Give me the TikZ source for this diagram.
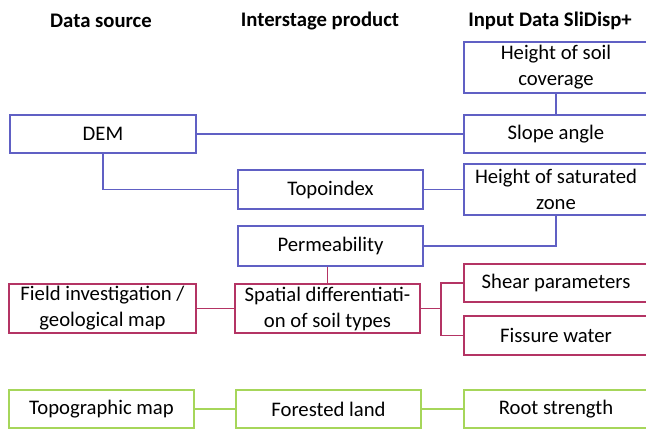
\documentclass[tikz,border=0pt]{standalone}
\usepackage{fontspec}
\setmainfont{Carlito}
\usepackage{tikz}
\usetikzlibrary{positioning}
\definecolor{bluebox}{RGB}{96,96,196}
\definecolor{redbox}{RGB}{180,52,100}
\definecolor{greenbox}{RGB}{166,214,90}
\tikzstyle{box} = [rectangle, draw, line width=1.3pt, text centered, align=center, inner sep=0pt, font=\fontsize{20.7}{26}\selectfont]
\tikzstyle{bluenode} = [box, draw=bluebox]
\tikzstyle{rednode} = [box, draw=redbox]
\tikzstyle{greennode} = [box, draw=greenbox]
\tikzstyle{head} = [font=\fontsize{20.7}{25}\selectfont\bfseries]
\tikzstyle{blueline} = [line width=1.3pt, draw=bluebox]
\tikzstyle{redline} = [line width=1.3pt, draw=redbox]
\tikzstyle{greenline} = [line width=1.3pt, draw=greenbox]

\begin{document}
\begin{tikzpicture}[x=1pt, y=-1pt]
                            \useasboundingbox (0,0) rectangle (646,431);
                            % column headings
                            \node (hsource) [head] at (101,21) {Data source};
                            \node (hinter) [head] at (320,21) {Interstage product};
                            \node (hinput) [head] at (550,21) {Input Data SliDisp+};
                            % data sources
                            \node (dem) [bluenode, minimum width=186pt, minimum height=38pt] at (103,134) {DEM};
                            \node (field) [rednode, minimum width=187pt, minimum height=49pt] at (102.5,308.5) {Field investigation /\\geological map};
                            \node (topomap) [greennode, minimum width=185pt, minimum height=38pt] at (101.5,409) {Topographic map};
                            % interstage products
                            \node (topoindex) [bluenode, minimum width=185pt, minimum height=39pt] at (330.5,189.5) {Topoindex};
                            \node (perm) [bluenode, minimum width=185pt, minimum height=40pt] at (330.5,246) {Permeability};
                            \node (spatial) [rednode, minimum width=185pt, minimum height=49pt] at (327.5,308.5) {Spatial differentiati-\\on of soil types};
                            \node (forest) [greennode, minimum width=185pt, minimum height=38pt] at (328.5,409) {Forested land};
                            % input data
                            \node (soil) [bluenode, minimum width=184pt, minimum height=51pt] at (556,67.5) {Height of soil\\coverage};
                            \node (slope) [bluenode, minimum width=184pt, minimum height=38pt] at (556,134) {Slope angle};
                            \node (satur) [bluenode, minimum width=184pt, minimum height=51pt] at (556,189.5) {Height of saturated\\zone};
                            \node (shear) [rednode, minimum width=184pt, minimum height=38pt] at (556,283) {Shear parameters};
                            \node (fissure) [rednode, minimum width=184pt, minimum height=39pt] at (556,335.5) {Fissure water};
                            \node (root) [greennode, minimum width=184pt, minimum height=38pt] at (556,409) {Root strength};
                            \coordinate (fork) at (441,308.5);
                            \draw [blueline] (soil) -- (slope);
                            \draw [blueline] (dem) -- (slope);
                            \draw [blueline] (dem.south) |- (topoindex.west);
                            \draw [blueline] (topoindex) -- (satur);
                            \draw [blueline] (satur.south) |- (perm.east);
                            \draw [redline] (perm.south -| spatial.north) -- (spatial.north);
                            \draw [redline] (field) -- (spatial);
                            \draw [redline] (spatial.east) -- (fork);
                            \draw [redline] (fork) |- (shear.west);
                            \draw [redline] (fork) |- (fissure.west);
                            \draw [greenline] (topomap) -- (forest);
                            \draw [greenline] (forest) -- (root);
                        \end{tikzpicture}
\end{document}
